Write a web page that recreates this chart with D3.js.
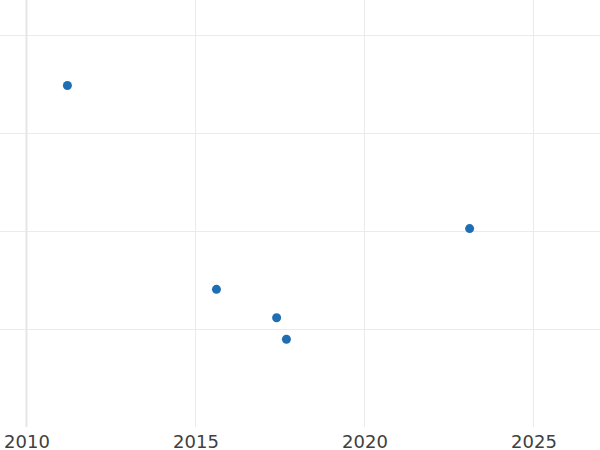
<!DOCTYPE html>
<html>
<head>
<meta charset="utf-8">
<script src="https://cdn.jsdelivr.net/npm/d3@7"></script>
<style>
  body { margin: 0; background: #fff; }
  svg { display: block; }
  .tick text { font-family: "DejaVu Sans", sans-serif; font-size: 18px; fill: #404040; }
</style>
</head>
<body>
<div id="chart"></div>
<script>
var years = [2011.21, 2015.62, 2017.40, 2017.69, 2023.11];
var values = [3.49, 1.41, 1.12, 0.90, 2.03];
var xTicks = [2010, 2015, 2020, 2025];
var yTicks = [1, 2, 3, 4];

var WIDTH = 600, HEIGHT = 450;
var plotBottom = 427;

var x = d3.scaleLinear().domain([2010, 2025]).range([26.5, 533.5]);
var y = d3.scaleLinear().domain([1, 4]).range([329.5, 35.5]);

var svg = d3.select("#chart").append("svg")
    .attr("width", WIDTH)
    .attr("height", HEIGHT);

// horizontal grid
svg.append("g").selectAll("line")
    .data(yTicks).enter().append("line")
    .attr("x1", 0).attr("x2", WIDTH)
    .attr("y1", function (d) { return y(d); })
    .attr("y2", function (d) { return y(d); })
    .attr("stroke", "#ebebeb")
    .attr("stroke-width", 1);

// vertical grid
svg.append("g").selectAll("line")
    .data(xTicks).enter().append("line")
    .attr("x1", function (d) { return x(d); })
    .attr("x2", function (d) { return x(d); })
    .attr("y1", 0).attr("y2", plotBottom)
    .attr("stroke", function (d) { return d === 2010 ? "#e6e6e6" : "#ebebeb"; })
    .attr("stroke-width", function (d) { return d === 2010 ? 2 : 1; });

// x axis labels
var xAxis = d3.axisBottom(x)
    .tickValues(xTicks)
    .tickFormat(d3.format("d"))
    .tickSize(0)
    .tickPadding(8);

svg.append("g")
    .attr("transform", "translate(0," + plotBottom + ")")
    .call(xAxis)
    .call(function (g) { g.select(".domain").remove(); });

// points
svg.append("g").selectAll("circle")
    .data(years).enter().append("circle")
    .attr("cx", function (d) { return x(d); })
    .attr("cy", function (d, i) { return y(values[i]); })
    .attr("r", 4.5)
    .attr("fill", "#1f6eb3");
</script>
</body>
</html>
